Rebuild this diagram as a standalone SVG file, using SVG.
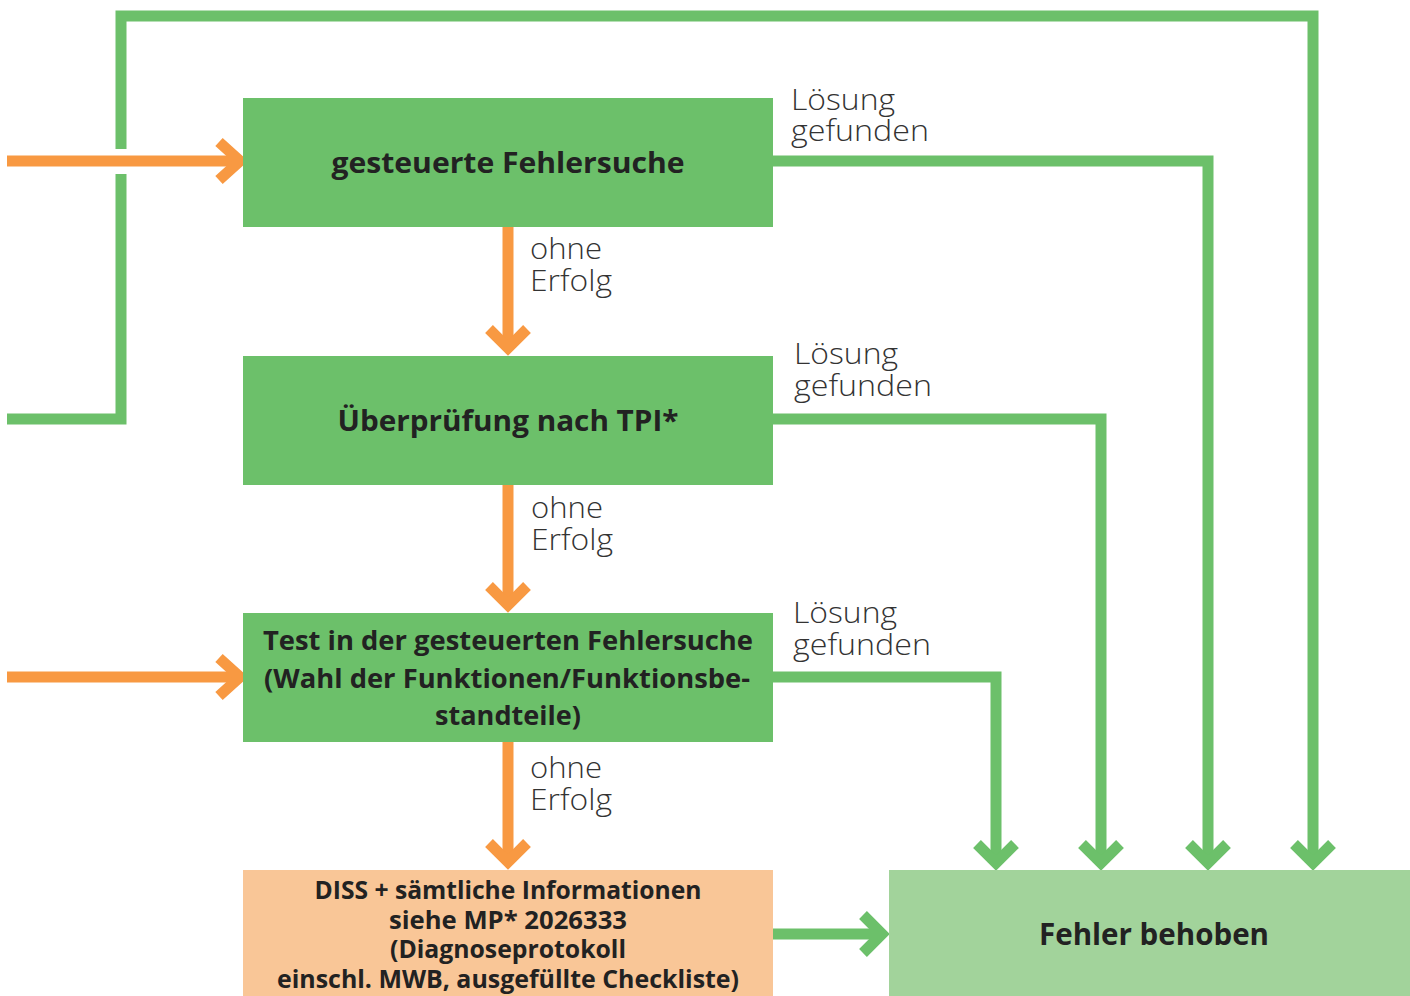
<svg xmlns="http://www.w3.org/2000/svg" width="1410" height="996" viewBox="0 0 1410 996">
<style>
.g{fill:none;stroke:#6cc06a;stroke-width:11}
.o{fill:none;stroke:#f89942;stroke-width:11}
.box{fill:#6cc06a}
.t{font-family:"Open Sans","Liberation Sans",sans-serif;font-weight:700;fill:#222;text-anchor:middle}
.l{font-family:"Open Sans","Liberation Sans",sans-serif;font-weight:300;fill:#333;font-size:29px}
</style>
<rect width="1410" height="996" fill="#fff"/>
<g id="connectors">
<path class="g" d="M1313 862V16H121V149M121 174V419H7"/>
<path class="o" d="M7 161H238"/>
<path class="o" d="M219 142L240 161L219 180"/>
<path class="o" d="M7 677H238"/>
<path class="o" d="M219 658L240 677L219 696"/>
<path class="o" d="M508 227V348"/>
<path class="o" d="M489 329L508 348L527 329"/>
<path class="o" d="M508 485V605"/>
<path class="o" d="M489 586L508 605L527 586"/>
<path class="o" d="M508 742V862"/>
<path class="o" d="M489 843L508 862L527 843"/>
<path class="g" d="M773 161H1208V862"/>
<path class="g" d="M773 419H1101V862"/>
<path class="g" d="M773 677H996V862"/>
<path class="g" d="M977 844L996 863L1015 844M1082 844L1101 863L1120 844M1189 844L1208 863L1227 844M1294 844L1313 863L1332 844"/>
<path class="g" d="M773 934H882"/>
<path class="g" d="M863 915L882 934L863 953"/>
</g>
<g id="labels">
<text class="l" x="791" y="110" textLength="104" lengthAdjust="spacingAndGlyphs">Lösung</text>
<text class="l" x="791" y="141" textLength="138" lengthAdjust="spacingAndGlyphs">gefunden</text>
<text class="l" x="794" y="364" textLength="104" lengthAdjust="spacingAndGlyphs">Lösung</text>
<text class="l" x="794" y="396" textLength="138" lengthAdjust="spacingAndGlyphs">gefunden</text>
<text class="l" x="793" y="623" textLength="104" lengthAdjust="spacingAndGlyphs">Lösung</text>
<text class="l" x="793" y="655" textLength="138" lengthAdjust="spacingAndGlyphs">gefunden</text>
<text class="l" x="530" y="259" textLength="72" lengthAdjust="spacingAndGlyphs">ohne</text>
<text class="l" x="530" y="291" textLength="82" lengthAdjust="spacingAndGlyphs">Erfolg</text>
<text class="l" x="531" y="518" textLength="72" lengthAdjust="spacingAndGlyphs">ohne</text>
<text class="l" x="531" y="550" textLength="82" lengthAdjust="spacingAndGlyphs">Erfolg</text>
<text class="l" x="530" y="778" textLength="72" lengthAdjust="spacingAndGlyphs">ohne</text>
<text class="l" x="530" y="810" textLength="82" lengthAdjust="spacingAndGlyphs">Erfolg</text>
</g>
<g id="n1">
<rect class="box" x="243" y="98" width="530" height="129"/>
<text class="t" x="508" y="173" font-size="28" textLength="353" lengthAdjust="spacingAndGlyphs">gesteuerte Fehlersuche</text>
</g>
<g id="n2">
<rect class="box" x="243" y="356" width="530" height="129"/>
<text class="t" x="508" y="431" font-size="28" textLength="341" lengthAdjust="spacingAndGlyphs">Überprüfung nach TPI*</text>
</g>
<g id="n3">
<rect class="box" x="243" y="613" width="530" height="129"/>
<text class="t" x="508" y="650" font-size="27" textLength="490" lengthAdjust="spacingAndGlyphs">Test in der gesteuerten Fehlersuche</text>
<text class="t" x="507" y="688" font-size="27" textLength="486" lengthAdjust="spacingAndGlyphs">(Wahl der Funktionen/Funktionsbe-</text>
<text class="t" x="508" y="725" font-size="27" textLength="146" lengthAdjust="spacingAndGlyphs">standteile)</text>
</g>
<g id="n4">
<rect x="243" y="870" width="530" height="126" fill="#f9c697"/>
<text class="t" x="508" y="899" font-size="25" textLength="387" lengthAdjust="spacingAndGlyphs">DISS + sämtliche Informationen</text>
<text class="t" x="508" y="929" font-size="25" textLength="238" lengthAdjust="spacingAndGlyphs">siehe MP* 2026333</text>
<text class="t" x="508" y="958" font-size="25" textLength="236" lengthAdjust="spacingAndGlyphs">(Diagnoseprotokoll</text>
<text class="t" x="508" y="988" font-size="25" textLength="462" lengthAdjust="spacingAndGlyphs">einschl. MWB, ausgefüllte Checkliste)</text>
</g>
<g id="n5">
<rect x="889" y="870" width="521" height="126" fill="#a2d39b"/>
<text class="t" x="1154" y="945" font-size="30" textLength="230" lengthAdjust="spacingAndGlyphs">Fehler behoben</text>
</g>
</svg>
